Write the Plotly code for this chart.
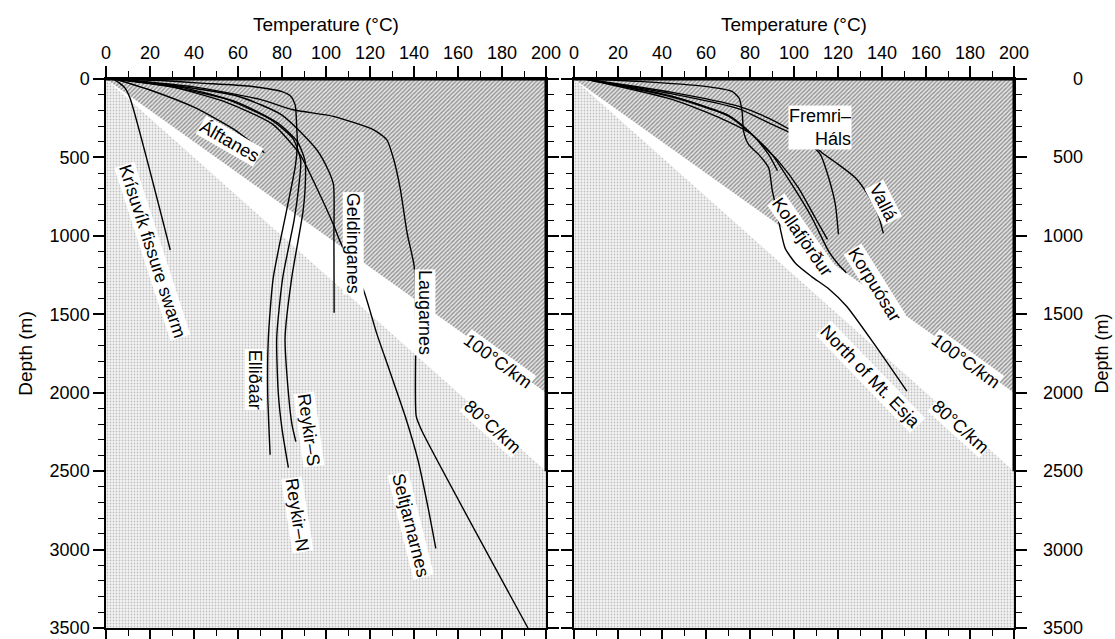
import plotly.graph_objects as go

# ---------------- data (Temperature °C, Depth m) ----------------
# Left panel wells
krisuvik_T = [3, 6, 8.6, 10.9, 29.2]
krisuvik_D = [0, 25, 57, 121, 1090]
alftanes_T = [4, 20, 40, 58, 72]
alftanes_D = [0, 70, 180, 320, 470]
ellidaar_T = [4, 25, 43, 65, 80, 84, 86, 86.7, 87, 86, 82, 76, 73.8, 73.5, 74.6]
ellidaar_D = [0, 10, 26, 45, 80, 110, 165, 312, 420, 560, 844, 1269, 1651, 2000, 2395]
reykirN_T = [4, 30, 55, 75, 85, 88.5, 87.5, 85.5, 80.3, 77.6, 78.3, 80, 82.9]
reykirN_D = [0, 50, 130, 260, 380, 520, 700, 900, 1269, 1651, 2000, 2230, 2478]
reykirS_T = [4, 35, 60, 78, 87, 90.5, 90.5, 89.5, 84.4, 81.4, 82.9, 84.5, 86.3]
reykirS_D = [0, 55, 150, 280, 400, 525, 700, 850, 1269, 1651, 2000, 2200, 2312]
geldinganes_T = [4, 30, 60, 80, 95.8, 101, 103.4, 103.6, 103.7]
geldinganes_D = [0, 40, 110, 230, 451, 580, 674, 1000, 1490]
seltjarnarnes_T = [4, 30, 55, 76, 88.2, 95.8, 103.4, 106.4, 117, 123, 128.8, 136, 141.8, 146.6, 149.9]
seltjarnarnes_D = [0, 50, 150, 291, 482, 695, 929, 1035, 1343, 1620, 1855, 2150, 2429, 2747, 2992]
laugarnes_T = [4, 40, 70, 85, 103.4, 121.5, 127.6, 130.6, 133.7, 136.9, 140.1, 140.8, 141, 143.4, 191.8]
laugarnes_D = [0, 50, 130, 196, 238, 323, 387, 504, 695, 984, 1196, 1600, 2150, 2238, 3500]

# Right panel wells
esja_T = [5, 29.4, 59.7, 71.8, 75, 76.4, 77.1, 79.4, 84, 88.5, 90, 91.5, 93.9, 96, 101, 108, 116, 124, 137, 151.3]
esja_D = [0, 15, 47, 79, 121, 206, 334, 419, 482, 567, 700, 800, 963, 1080, 1180, 1260, 1340, 1450, 1700, 1990]
short_T = [5, 44.6, 65, 81, 88.5, 92.5]
short_D = [0, 130, 240, 355, 482, 585]
kollafjordur_T = [5, 44.6, 70, 77.9, 84, 93, 102.1, 109.7, 115.2]
kollafjordur_D = [0, 110, 230, 312, 397, 525, 695, 886, 1022]
fremri_T = [5, 44.6, 74.9, 90, 105.2, 112, 115.8, 118.8, 120.2]
fremri_D = [0, 95, 190, 290, 390, 482, 631, 801, 990]
valla_T = [5, 44.6, 75, 90, 105, 112.7, 120.3, 128, 133.2, 138.1, 140.6]
valla_D = [0, 85, 175, 260, 380, 470, 546, 631, 729, 857, 984]
korpuosar_T = [5, 44.6, 70, 81, 90, 99.1, 108.2, 115.8, 120.3, 123.8]
korpuosar_D = [0, 115, 235, 355, 482, 674, 886, 1099, 1184, 1235]

# Gradient zones
grad100_T = [0, 200, 200]
grad100_D = [0, 0, 2000]
grad80_T = [0, 200, 200, 0]
grad80_D = [0, 2500, 3500, 3500]

x_ticks = [0, 20, 40, 60, 80, 100, 120, 140, 160, 180, 200]
y_ticks = [0, 500, 1000, 1500, 2000, 2500, 3000, 3500]

left_wells = [
    (krisuvik_T, krisuvik_D), (alftanes_T, alftanes_D), (ellidaar_T, ellidaar_D),
    (reykirN_T, reykirN_D), (reykirS_T, reykirS_D), (geldinganes_T, geldinganes_D),
    (seltjarnarnes_T, seltjarnarnes_D), (laugarnes_T, laugarnes_D),
]
right_wells = [
    (esja_T, esja_D), (short_T, short_D), (kollafjordur_T, kollafjordur_D),
    (fremri_T, fremri_D), (valla_T, valla_D), (korpuosar_T, korpuosar_D),
]

# labels: text, T, D, angle
left_labels = [
    ("Krísuvík fissure swarm", 21, 1097, 72),
    ("Álftanes", 56, 397, 30),
    ("Geldinganes", 112.4, 1045, 90),
    ("Laugarnes", 145, 1485, 90),
    ("Elliðaár", 67.9, 1919, 90),
    ("Reykir–S", 92.2, 2238, 82),
    ("Reykir–N", 86.9, 2780, 81),
    ("Seltjarnarnes", 138.5, 2843, 76),
    ("100°C/km", 178, 1800, 36),
    ("80°C/km", 175.8, 2216, 42),
]
right_labels = [
    ("Vallá", 140.6, 792, 63),
    ("Kollafjörður", 103.8, 1005, 55),
    ("Korpuósar", 136.8, 1313, 58),
    ("North of Mt. Esja", 134.9, 1898, 46),
    ("100°C/km", 178, 1800, 36),
    ("80°C/km", 175.8, 2216, 42),
]

FONT = "Liberation Sans, Arial, Helvetica, sans-serif"
W, H = 1115, 639
FS = 18

fig = go.Figure()

def add_panel(xa, ya, wells):
    fig.add_trace(go.Scatter(
        x=grad80_T, y=grad80_D, xaxis=xa, yaxis=ya, mode="lines", fill="toself",
        line=dict(width=0), fillcolor="rgba(0,0,0,0)",
        fillpattern=dict(shape=".", size=3, solidity=0.3, fgcolor="#8c8c8c", bgcolor="#f4f4f4"),
        hoverinfo="skip", showlegend=False))
    fig.add_trace(go.Scatter(
        x=grad100_T, y=grad100_D, xaxis=xa, yaxis=ya, mode="lines", fill="toself",
        line=dict(width=0), fillcolor="rgba(0,0,0,0)",
        fillpattern=dict(shape="/", size=3, solidity=0.45, fgcolor="#3a3a3a", bgcolor="#e6e6e6"),
        hoverinfo="skip", showlegend=False))
    for t, d in wells:
        fig.add_trace(go.Scatter(
            x=t, y=d, xaxis=xa, yaxis=ya, mode="lines",
            line=dict(color="black", width=1.4, shape="spline", smoothing=0.6),
            hoverinfo="skip", showlegend=False))

add_panel("x", "y", left_wells)
add_panel("x2", "y2", right_wells)

annotations = []
for lab, xa, ya in ((left_labels, "x", "y"), (right_labels, "x2", "y2")):
    for text, t, d, ang in lab:
        annotations.append(dict(
            text=text, x=t, y=d, xref=xa, yref=ya, showarrow=False, textangle=ang,
            font=dict(family=FONT, size=FS, color="black"), bgcolor="white", borderpad=0))
annotations.append(dict(
    text="Fremri–<br>Háls", x=112, y=312, xref="x2", yref="y2", showarrow=False,
    align="right", font=dict(family=FONT, size=FS, color="black"), bgcolor="white", borderpad=0))

# right-hand depth tick labels (right aligned) and title
for v in y_ticks:
    annotations.append(dict(
        text=str(v), x=1085 / W, y=v, xref="paper", yref="y2", xanchor="right", yanchor="middle",
        showarrow=False, font=dict(family=FONT, size=FS, color="black")))
annotations.append(dict(
    text="Depth (m)", x=1101 / W, y=1750, xref="paper", yref="y2", xanchor="center", yanchor="middle",
    textangle=-90, showarrow=False, font=dict(family=FONT, size=FS, color="black")))

shapes = []
for xr, yr in (("x", "y"), ("x2", "y2")):
    shapes.append(dict(type="line", xref=xr, yref=yr, x0=0, x1=200, y0=0, y1=0,
                       line=dict(color="black", width=3)))
    shapes.append(dict(type="line", xref=xr, yref=yr, x0=200, x1=200, y0=0, y1=2500,
                       line=dict(color="black", width=3)))

xdom1 = [106 / W, 546 / W]
xdom2 = [574 / W, 1014 / W]
ydom = [(H - 628) / H, (H - 79) / H]

def xaxis_def(dom, anchor):
    return dict(domain=dom, anchor=anchor, range=[0, 200], side="top", automargin=False,
                tickvals=x_ticks, ticks="outside", ticklen=11, tickwidth=1.5, tickcolor="black",
                minor=dict(dtick=10, ticks="outside", ticklen=6, tickwidth=1.2, tickcolor="black"),
                showline=True, linecolor="black", linewidth=1.5, mirror="ticks",
                showgrid=False, zeroline=False,
                tickfont=dict(family=FONT, size=FS, color="black"),
                title=dict(text="Temperature (°C)", font=dict(family=FONT, size=FS + 1, color="black"), standoff=6))

def yaxis_def(anchor, side, labels):
    d = dict(domain=ydom, anchor=anchor, range=[3500, 0], side=side, automargin=False,
             tickvals=y_ticks, ticks="outside", ticklen=11, tickwidth=1.5, tickcolor="black",
             minor=dict(dtick=100, ticks="outside", ticklen=6, tickwidth=1.2, tickcolor="black"),
             showline=True, linecolor="black", linewidth=1.5, mirror="ticks",
             showgrid=False, zeroline=False, showticklabels=labels,
             tickfont=dict(family=FONT, size=FS, color="black"))
    if labels:
        d["title"] = dict(text="Depth (m)", font=dict(family=FONT, size=FS + 1, color="black"), standoff=12)
    return d

fig.update_layout(
    width=W, height=H, margin=dict(l=0, r=0, t=0, b=0),
    paper_bgcolor="white", plot_bgcolor="white",
    xaxis=xaxis_def(xdom1, "y"), yaxis=yaxis_def("x", "left", True),
    xaxis2=xaxis_def(xdom2, "y2"), yaxis2=yaxis_def("x2", "right", False),
    annotations=annotations, shapes=shapes,
)

fig.write_html("out.html", config={"displayModeBar": False},
               post_script="document.body.style.margin='0';document.body.style.overflow='hidden';")
